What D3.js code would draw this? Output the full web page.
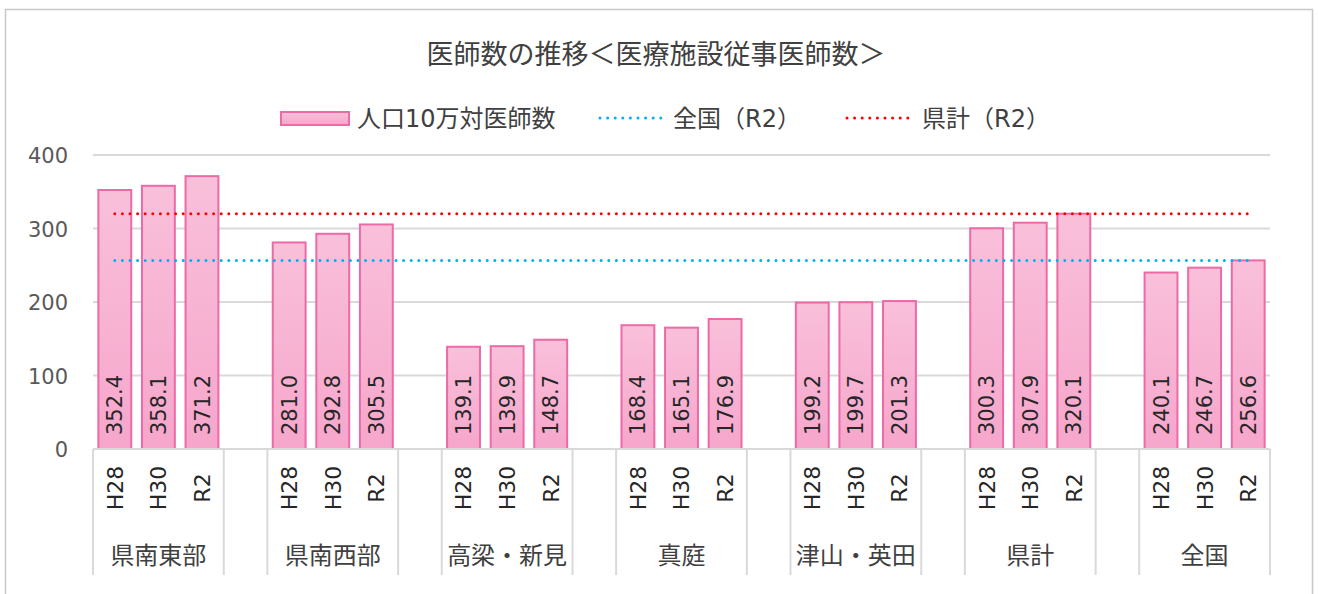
<!DOCTYPE html>
<html><head><meta charset="utf-8">
<script src="https://cdn.jsdelivr.net/npm/d3@7"></script>
<style>
html,body{margin:0;padding:0;background:#fff;}
svg{display:block;font-family:"DejaVu Sans","Noto Sans CJK JP",sans-serif;}
</style></head>
<body>
<svg id="chart" width="1318" height="594"></svg>
<script>
const title = "医師数の推移＜医療施設従事医師数＞";
const groups = ["県南東部","県南西部","高梁・新見","真庭","津山・英田","県計","全国"];
const periods = ["H28","H30","R2"];
const values = [
  [352.4,358.1,371.2],
  [281.0,292.8,305.5],
  [139.1,139.9,148.7],
  [168.4,165.1,176.9],
  [199.2,199.7,201.3],
  [300.3,307.9,320.1],
  [240.1,246.7,256.6]
];
const nationalR2 = 256.6;
const prefR2 = 320.1;
const yTicks = [0,100,200,300,400];
const seriesName = "人口10万対医師数";
const nationalName = "全国（R2）";
const prefName = "県計（R2）";

const svg = d3.select("#chart");
const CJK = "'Noto Sans CJK JP',sans-serif";
const MIX = "'DejaVu Sans','Noto Sans CJK JP',sans-serif";
// frame
svg.append("rect").attr("x",5.5).attr("y",9.5).attr("width",1307).attr("height",600)
  .attr("fill","#fff").attr("stroke","#c8c8c8").attr("stroke-width",1.5);

const defs = svg.append("defs");
const grad = defs.append("linearGradient").attr("id","barGrad").attr("x1",0).attr("y1",0).attr("x2",0).attr("y2",1);
grad.append("stop").attr("offset","0%").attr("stop-color","#f9c0da");
grad.append("stop").attr("offset","100%").attr("stop-color","#f6a6cb");

// build slots: each group has 3 periods, then a blank slot between groups
const slots = [];
groups.forEach((g,gi)=>{
  periods.forEach((p,pi)=>slots.push({key:g+"|"+p, group:g, gi, period:p, value:values[gi][pi]}));
  if (gi < groups.length-1) slots.push({key:"blank"+gi, blank:true, gi});
});

const x0 = 93, x1 = 1270, yTop = 155, yBot = 449;
const x = d3.scaleBand().domain(slots.map(d=>d.key)).range([x0,x1]).paddingInner(0.2).paddingOuter(0.1);
const y = d3.scaleLinear().domain([0,400]).range([yBot,yTop]);

// gridlines
svg.append("g").selectAll("line").data(yTicks).join("line")
  .attr("x1",x0).attr("x2",x1).attr("y1",d=>y(d)).attr("y2",d=>y(d))
  .attr("stroke","#d9d9d9").attr("stroke-width",2);

// y axis labels
const yAxis = d3.axisLeft(y).tickValues(yTicks).tickSize(0).tickPadding(0);
const ya = svg.append("g").attr("transform",`translate(68,0)`).call(yAxis);
ya.select(".domain").remove();
ya.selectAll("text").attr("font-size",21).attr("fill","#595959")
  .attr("font-family",MIX).attr("dy","0.36em");

// bars
const barSlots = slots.filter(d=>!d.blank);
svg.append("g").selectAll("rect").data(barSlots).join("rect")
  .attr("x",d=>x(d.key)+1).attr("width",x.bandwidth()-2)
  .attr("y",d=>y(d.value)).attr("height",d=>y(0)-y(d.value))
  .attr("fill","url(#barGrad)").attr("stroke","#ec6aa6").attr("stroke-width",2);

// value labels (rotated)
svg.append("g").selectAll("text").data(barSlots).join("text")
  .attr("transform",d=>`translate(${x(d.key)+x.bandwidth()/2},${yBot-14}) rotate(-90)`)
  .attr("dy","0.36em").attr("text-anchor","start")
  .attr("font-size",21).attr("fill","#262626").attr("font-family",MIX)
  .text(d=>d.value.toFixed(1));

// reference lines
const lineX1 = x(barSlots[0].key)+x.bandwidth()/2;
const lineX2 = x(barSlots[barSlots.length-1].key)+x.bandwidth()/2;
const refs = [{v:nationalR2,c:"#00b0f0"},{v:prefR2,c:"#ff0000"}];
svg.append("g").selectAll("line").data(refs).join("line")
  .attr("x1",lineX1).attr("x2",lineX2).attr("y1",d=>y(d.v)).attr("y2",d=>y(d.v))
  .attr("stroke",d=>d.c).attr("stroke-width",3).attr("stroke-dasharray","0 7.6").attr("stroke-linecap","round");

// x axis baseline
svg.append("line").attr("x1",x0).attr("x2",x1).attr("y1",yBot).attr("y2",yBot)
  .attr("stroke","#d9d9d9").attr("stroke-width",2);

// group separators
const step = x.step();
const bounds = [];
slots.forEach((d,i)=>{
  const left = x(d.key) - x.paddingInner()*step/2;
  if (i===0) bounds.push(x0);
  else if (d.blank || slots[i-1].blank) bounds.push(left);
});
bounds.push(x1);
svg.append("g").selectAll("line").data(bounds).join("line")
  .attr("x1",d=>d).attr("x2",d=>d).attr("y1",yBot).attr("y2",575)
  .attr("stroke","#d9d9d9").attr("stroke-width",2);

// period labels
svg.append("g").selectAll("text").data(barSlots).join("text")
  .attr("transform",d=>`translate(${x(d.key)+x.bandwidth()/2},${488}) rotate(-90)`)
  .attr("dy","0.36em").attr("text-anchor","middle")
  .attr("font-size",22).attr("fill","#262626").attr("font-family",MIX)
  .text(d=>d.period);

// group labels
svg.append("g").selectAll("text").data(groups).join("text")
  .attr("x",(g,gi)=>{
    const s = barSlots.filter(d=>d.gi===gi);
    return (x(s[0].key)+x(s[2].key)+x.bandwidth())/2;
  })
  .attr("y",555).attr("dy","0.36em").attr("text-anchor","middle")
  .attr("font-size",24).attr("fill","#404040").attr("font-family",CJK)
  .text(d=>d);

// title
svg.append("text").attr("x",656).attr("y",54).attr("dy","0.36em").attr("text-anchor","middle")
  .attr("font-size",27).attr("fill","#404040").attr("font-family",CJK).text(title);

// legend
const lg = svg.append("g");
lg.append("rect").attr("x",281).attr("y",112).attr("width",68).attr("height",13)
  .attr("fill","url(#barGrad)").attr("stroke","#ec6aa6").attr("stroke-width",2);
lg.append("text").attr("x",357).attr("y",118).attr("dy","0.36em").attr("font-size",24).attr("fill","#404040").attr("font-family",MIX).text(seriesName);
lg.append("line").attr("x1",600).attr("x2",662).attr("y1",118).attr("y2",118)
  .attr("stroke","#00b0f0").attr("stroke-width",3).attr("stroke-dasharray","0 7.6").attr("stroke-linecap","round");
lg.append("text").attr("x",673).attr("y",118).attr("dy","0.36em").attr("font-size",24).attr("fill","#404040").attr("font-family",MIX).text(nationalName);
lg.append("line").attr("x1",847).attr("x2",912).attr("y1",118).attr("y2",118)
  .attr("stroke","#ff0000").attr("stroke-width",3).attr("stroke-dasharray","0 7.6").attr("stroke-linecap","round");
lg.append("text").attr("x",922).attr("y",118).attr("dy","0.36em").attr("font-size",24).attr("fill","#404040").attr("font-family",MIX).text(prefName);
</script>
</body></html>
